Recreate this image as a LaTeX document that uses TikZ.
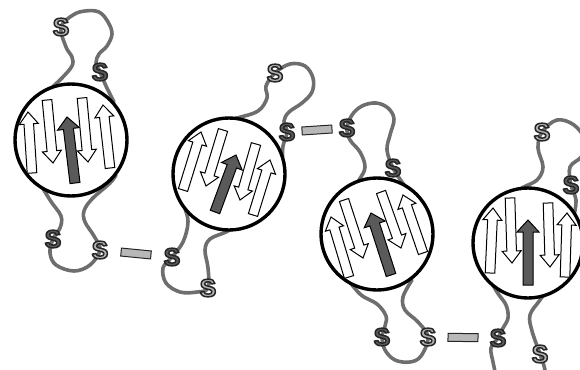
\documentclass[tikz,border=0pt]{standalone}
\usepackage{fontspec}
\setsansfont{Liberation Sans}
\usetikzlibrary{calc}
\definecolor{loopgray}{HTML}{6E6E6E}
\definecolor{sdark}{HTML}{5C5C5C}
\definecolor{slight}{HTML}{B4B4B4}
\definecolor{sline}{HTML}{262626}
\definecolor{coregray}{HTML}{5A5A5A}
\definecolor{bondgray}{HTML}{B8B8B8}
\tikzset{
  chain/.style={draw=loopgray, line width=3.6pt, line cap=round, line join=round},
  barrel/.style={draw=black, line width=3.4pt, fill=white},
  strandline/.style={draw=black, line width=1pt, line join=miter},
  sletter/.style={font=\sffamily\bfseries\fontsize{25}{25}\selectfont, inner sep=0pt},
  bond/.style={draw=sline, fill=bondgray, line width=1pt, minimum width=30pt, minimum height=8pt, inner sep=0pt},
}
% fill, shaft half width, head half width, tail, tip
\newcommand\arrowbody[5]{\draw[strandline, fill=#1] ($(#4)!#2!90:(#5)$) -- ($(#5)!12pt!(#4)!#2!-90:(#4)$) -- ($(#5)!12pt!(#4)!#3!-90:(#4)$) -- (#5) -- ($(#5)!12pt!(#4)!#3!90:(#4)$) -- ($(#5)!12pt!(#4)!#2!90:(#4)$) -- ($(#4)!#2!-90:(#5)$) -- cycle;}
\newcommand\strand[2]{\arrowbody{white}{4.8pt}{9.5pt}{#1}{#2}}
\newcommand\core[2]{\arrowbody{coregray}{5pt}{11pt}{#1}{#2}}
% filled and stroked letter (text render mode 2)
\newcommand\outS[1]{\textcolor{#1}{\special{pdf:code 2 Tr 1.5 w 1 j 0.15 G}S\special{pdf:code 0 Tr}}}
\newcommand\cys[3]{\node[sletter] (#1) at (#2) {\outS{#3}};}
\begin{document}
\begin{tikzpicture}[x=1pt, y=-1pt]
\useasboundingbox (0,0) rectangle (580,369);
\clip (0,0) rectangle (580,369);
\coordinate (s1) at (61,27);   \coordinate (s2) at (100,72);
\coordinate (s3) at (53,239);  \coordinate (s4) at (100,250);
\coordinate (s5) at (172,257); \coordinate (s6) at (208,288);
\coordinate (s7) at (275,73);  \coordinate (s8) at (287,132);
\coordinate (s9) at (347,128); \coordinate (s10) at (393,168);
\coordinate (s11) at (382,337); \coordinate (s12) at (428,337);
\coordinate (s13) at (498,338); \coordinate (s14) at (540,354);
\coordinate (s15) at (542,132); \coordinate (s16) at (571,185);
% loops between the barrels
\draw[chain] plot[smooth, tension=0.6] coordinates {(42,105) (50,90) (62,78) (72,66) (72,57) (66,47) (s1) (73,15) (85,11) (99,12) (108,22) (112,34) (107,46) (99,54) (96,63) (s2) (106,86) (114,102)};
\draw[chain] plot[smooth, tension=0.6] coordinates {(33,172) (50,200) (61,216) (60,228) (s3) (50,253) (56,265) (74,271) (90,265) (s4) (94,236) (85,222) (84,211) (92,199) (110,183) (116,175)};
\draw[chain] plot[smooth, tension=0.6] coordinates {(220,122) (237,118) (258,111) (267,98) (266,86) (s7) (290,64) (305,66) (313,78) (312,92) (302,103) (289,112) (284,121) (s8) (283,146) (282,160) (276,172)};
\draw[chain] plot[smooth, tension=0.6] coordinates {(178,182) (184,205) (188,222) (183,242) (s5) (163,268) (166,283) (180,292) (197,292) (s6) (208,268) (205,250) (210,239) (226,232) (240,224)};
\draw[chain] plot[smooth, tension=0.6] coordinates {(347,196) (359,180) (365,167) (360,152) (350,140) (s9) (352,115) (362,106) (376,103) (388,108) (394,119) (390,135) (387,150) (s10) (402,182) (412,196)};
\draw[chain] plot[smooth, tension=0.6] coordinates {(342,272) (360,294) (377,304) (386,316) (385,326) (s11) (385,350) (395,360) (410,362) (421,356) (s12) (418,322) (405,310) (403,297) (412,280)};
\draw[chain] plot[smooth, tension=0.6] coordinates {(483,268) (497,292) (506,305) (508,318) (503,328) (s13) (491,348) (493,362) (497,380)};
\draw[chain] plot[smooth, tension=0.6] coordinates {(553,282) (540,300) (530,315) (532,331) (s14) (545,370) (546,385)};
\draw[chain] plot[smooth, tension=0.6] coordinates {(505,200) (522,188) (537,180) (543,167) (538,148) (s15) (557,120) (574,125) (585,140) (582,156) (570,167) (s16) (576,200) (574,215)};
% barrels
\draw[barrel] (71,140) circle (56);
\draw[barrel] (229,174) circle (56);
\draw[barrel] (377,234) circle (56);
\draw[barrel] (528,243) circle (55);
% strands
\strand{32,173}{28,112}
\strand{47,100}{53,163}
\core{75,183}{67,117}
\strand{82,98}{88,162}
\strand{110,168}{103,105}
\strand{183,190}{201,132}
\strand{223,130}{206,186}
\core{215,212}{236,155}
\strand{256,144}{240,200}
\strand{253,215}{270,160}
\strand{349,277}{331,217}
\strand{344,200}{363,258}
\core{391,275}{371,213}
\strand{381,192}{401,248}
\strand{423,253}{403,195}
\strand{490,273}{493,208}
\strand{510,198}{512,263}
\core{528,285}{528,220}
\strand{548,203}{550,267}
\strand{565,277}{567,213}
% cysteines
\cys{S1}{s1}{slight}
\cys{S2}{s2}{sdark}
\cys{S3}{s3}{sdark}
\cys{S4}{s4}{slight}
\cys{S5}{s5}{sdark}
\cys{S6}{s6}{slight}
\cys{S7}{s7}{slight}
\cys{S8}{s8}{sdark}
\cys{S9}{s9}{sdark}
\cys{S10}{s10}{sdark}
\cys{S11}{s11}{sdark}
\cys{S12}{s12}{slight}
\cys{S13}{s13}{sdark}
\cys{S14}{s14}{slight}
\cys{S15}{s15}{slight}
\cys{S16}{s16}{sdark}
% disulfide bridges
\path (S4) -- node[bond, sloped] (b1) {} (S5);
\path (S8) -- node[bond, sloped] (b2) {} (S9);
\path (S12) -- node[bond, sloped] (b3) {} (S13);
\end{tikzpicture}
\end{document}
